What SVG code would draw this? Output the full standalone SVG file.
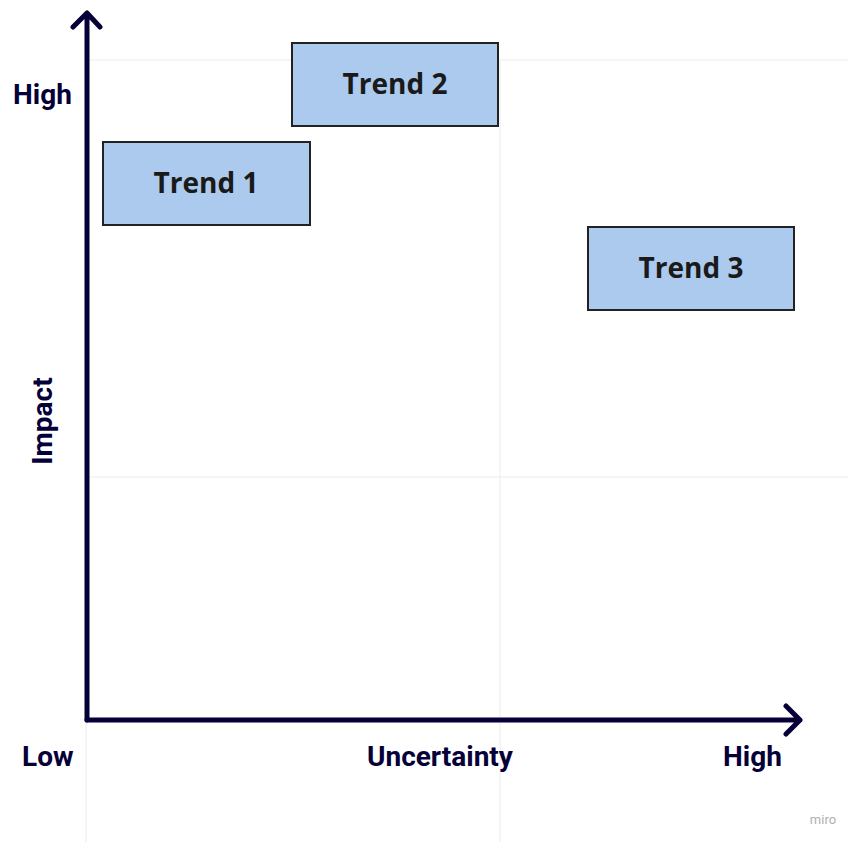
<svg xmlns="http://www.w3.org/2000/svg" width="848" height="842" viewBox="0 0 848 842">
<style>
.grid{stroke:#ececec;stroke-width:1;fill:none}
.axis{stroke:#050038;stroke-width:5;fill:none;stroke-linecap:round;stroke-linejoin:round}
.box{fill:#abcaed;stroke:#222;stroke-width:2}
.tt{font-family:"Open Sans","Noto Sans",sans-serif;font-weight:700;font-size:28px;fill:#1a1a1a;text-anchor:middle}
.lbl{font-family:Roboto,"Liberation Sans",sans-serif;font-weight:700;font-size:28px;fill:#050038}
</style>
<rect width="848" height="842" fill="#fff"/>
<g id="grid">
<line class="grid" x1="86" y1="60" x2="848" y2="60"/>
<line class="grid" x1="86" y1="477" x2="848" y2="477"/>
<line class="grid" x1="500" y1="60" x2="500" y2="842"/>
<line class="grid" x1="86" y1="60" x2="86" y2="842"/>
</g>
<g id="connectors">
<path class="axis" d="M87 720 V14 M73 27 L87 13 L100 27"/>
<path class="axis" d="M87 720 H800 M786 706 L800 720 L786 734"/>
</g>
<g id="trend1"><rect class="box" x="103" y="142" width="207" height="83"/><text class="tt" x="206" y="193">Trend 1</text></g>
<g id="trend2"><rect class="box" x="292" y="43" width="206" height="83"/><text class="tt" x="395" y="94">Trend 2</text></g>
<g id="trend3"><rect class="box" x="588" y="227" width="206" height="83"/><text class="tt" x="691" y="278">Trend 3</text></g>
<g id="labels">
<text class="lbl" x="13" y="104">High</text>
<text class="lbl" x="22" y="766">Low</text>
<text class="lbl" x="367" y="766">Uncertainty</text>
<text class="lbl" x="723" y="766">High</text>
<text class="lbl" transform="translate(52 421) rotate(-90)" text-anchor="middle">Impact</text>
<text x="823" y="824" font-family="Roboto,'Liberation Sans',sans-serif" font-size="13" fill="#b0b0b0" text-anchor="middle">miro</text>
</g>
</svg>
